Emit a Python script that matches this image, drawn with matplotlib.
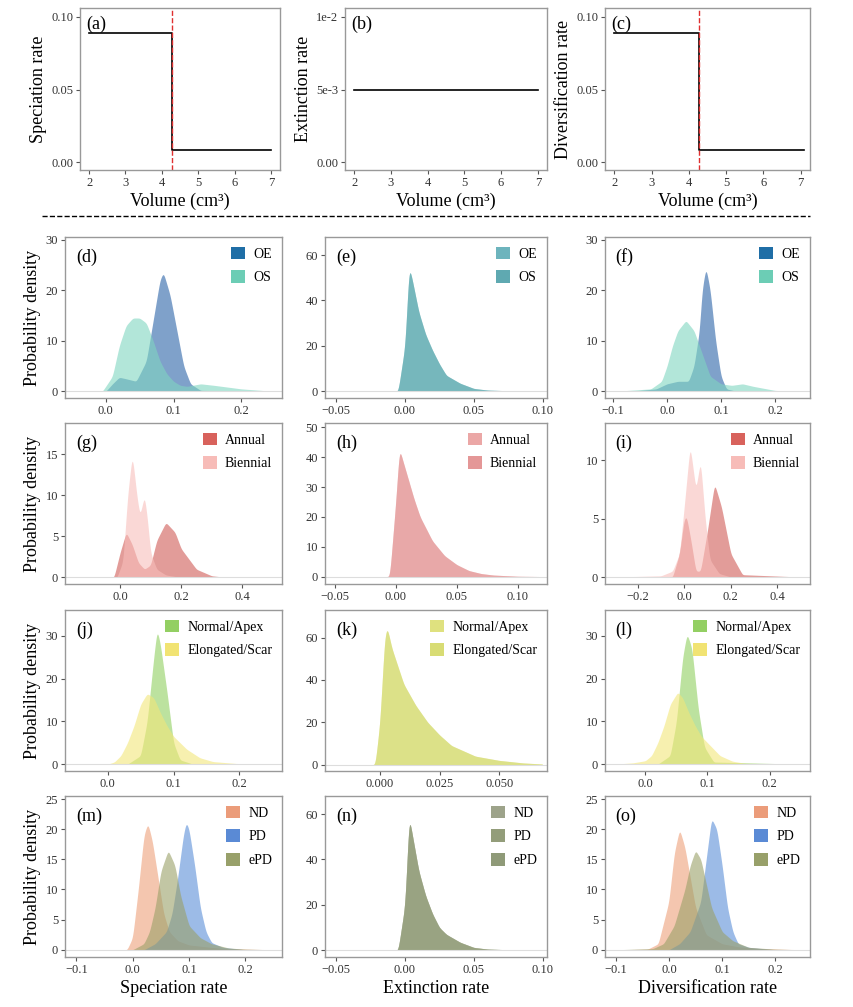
import numpy as np
import matplotlib
matplotlib.use('Agg')
import matplotlib.pyplot as plt
from matplotlib.patches import Patch
from matplotlib.lines import Line2D

plt.rcParams['font.family'] = ['Liberation Serif', 'DejaVu Serif']

# ---- top row: rate vs volume
vol_a = [2, 4.28, 4.28, 7]
spec_a = [0.089, 0.089, 0.0085, 0.0085]
vol_b = [2, 7]
ext_b = [0.005, 0.005]
vol_c = [2, 4.28, 4.28, 7.1]
div_c = [0.089, 0.089, 0.0085, 0.0085]
shift_vol = 4.28

# ---- density curves (x knots, y knots)
d_OE = ([-0.05, 0, 0.01, 0.02, 0.03, 0.045, 0.06, 0.07, 0.08, 0.085, 0.095, 0.105, 0.115, 0.125, 0.14, 0.25],
        [0, 0, 1.5, 2.8, 2.5, 2, 6, 14, 22, 23.5, 19, 12, 5, 1.5, 0.2, 0])
d_OS = ([-0.05, -0.005, 0.01, 0.02, 0.03, 0.04, 0.05, 0.06, 0.07, 0.08, 0.09, 0.1, 0.11, 0.12, 0.14, 0.16, 0.2, 0.25],
        [0, 0, 3, 9, 13, 14.5, 14.5, 13.5, 10, 6, 3.5, 2, 1.2, 1, 1.5, 1.2, 0.5, 0])
e_ext = ([-0.05, -0.005, 0, 0.003, 0.005, 0.01, 0.015, 0.02, 0.025, 0.03, 0.04, 0.05, 0.06, 0.08, 0.1],
         [0, 0, 20, 55, 50, 35, 25, 18, 12, 7, 3.5, 1.2, 0.5, 0.1, 0])
f_OE = ([-0.1, -0.05, -0.02, 0, 0.02, 0.04, 0.05, 0.06, 0.065, 0.072, 0.08, 0.09, 0.1, 0.11, 0.13, 0.25],
        [0, 0.2, 0.5, 1.5, 2, 2, 5, 12, 20, 24.5, 20, 10, 3, 0.5, 0, 0])
f_OS = ([-0.1, -0.03, -0.01, 0, 0.01, 0.02, 0.035, 0.05, 0.06, 0.07, 0.08, 0.1, 0.12, 0.14, 0.16, 0.2, 0.25],
        [0, 0.5, 2, 5, 9, 12, 14, 12, 9, 6, 3, 1.5, 1.2, 1.5, 1, 0.2, 0])
g_ann = ([-0.15, -0.02, 0, 0.02, 0.04, 0.06, 0.08, 0.1, 0.12, 0.15, 0.18, 0.2, 0.25, 0.3, 0.35, 0.5],
         [0, 0, 3, 5.5, 4, 1.8, 1, 1.5, 4.5, 6.7, 5.5, 3.5, 1, 0.2, 0, 0])
g_bie = ([-0.15, -0.01, 0.01, 0.025, 0.04, 0.055, 0.065, 0.08, 0.09, 0.1, 0.12, 0.15, 0.2, 0.5],
         [0, 0, 2, 10, 15, 10, 7.5, 10, 7, 3, 1, 0.3, 0, 0])
h_ext = ([-0.05, -0.005, 0, 0.003, 0.005, 0.01, 0.015, 0.02, 0.03, 0.04, 0.05, 0.06, 0.07, 0.08, 0.1, 0.12],
         [0, 0, 25, 43, 40, 33, 26, 20, 12, 7, 4, 2, 1, 0.5, 0.1, 0])
i_ann = ([-0.3, -0.05, -0.02, 0, 0.01, 0.03, 0.05, 0.07, 0.1, 0.13, 0.16, 0.2, 0.25, 0.5],
         [0, 0, 2, 5, 5.2, 3, 0.5, 0.5, 4, 8, 6, 2, 0.2, 0])
i_bie = ([-0.3, -0.1, -0.05, -0.02, 0, 0.025, 0.05, 0.07, 0.09, 0.11, 0.15, 0.2, 0.5],
         [0, 0.1, 0.5, 2, 6, 11.3, 7.5, 10, 5, 1.5, 0.3, 0, 0])
j_nor = ([-0.05, 0.03, 0.05, 0.06, 0.07, 0.075, 0.08, 0.09, 0.1, 0.11, 0.13, 0.25],
         [0, 0, 2, 10, 25, 31.5, 28, 17, 5, 1, 0, 0])
j_elo = ([-0.05, 0, 0.01, 0.02, 0.03, 0.04, 0.05, 0.06, 0.07, 0.08, 0.09, 0.1, 0.11, 0.12, 0.14, 0.16, 0.2, 0.25],
         [0, 0, 0.5, 2, 5, 9, 14, 16.5, 15.5, 12, 9, 6.5, 5, 3.5, 1.5, 0.6, 0.1, 0])
k_ext = ([-0.02, -0.002, 0, 0.002, 0.003, 0.005, 0.01, 0.015, 0.02, 0.025, 0.03, 0.04, 0.05, 0.06, 0.068],
         [0, 0, 20, 60, 65, 55, 38, 28, 20, 14, 9, 4, 2, 0.8, 0.3])
l_nor = ([-0.05, 0.02, 0.04, 0.05, 0.06, 0.067, 0.075, 0.085, 0.095, 0.11, 0.25],
         [0, 0, 2, 10, 25, 30.5, 27, 13, 4, 0.5, 0])
l_elo = ([-0.05, -0.02, 0, 0.01, 0.02, 0.03, 0.04, 0.052, 0.06, 0.07, 0.08, 0.09, 0.1, 0.11, 0.12, 0.14, 0.16, 0.25],
         [0, 0.3, 0.8, 2, 5, 9, 14, 16.8, 15.5, 12, 9, 6.5, 5, 3.5, 2, 0.7, 0.2, 0])
m_ND = ([-0.1, -0.01, 0, 0.01, 0.02, 0.027, 0.035, 0.045, 0.055, 0.065, 0.08, 0.1, 0.13, 0.16, 0.25],
        [0, 0, 2, 10, 19, 21, 18, 12, 6, 3, 1.5, 0.8, 0.5, 0.2, 0])
m_PD = ([-0.1, 0.02, 0.04, 0.06, 0.07, 0.08, 0.09, 0.095, 0.1, 0.11, 0.12, 0.13, 0.14, 0.16, 0.2, 0.25],
        [0, 0, 1, 3, 6, 12, 19, 21.2, 20, 14, 7, 3, 1.2, 0.4, 0, 0])
m_ePD = ([-0.1, 0, 0.02, 0.03, 0.04, 0.05, 0.063, 0.075, 0.085, 0.1, 0.12, 0.14, 0.17, 0.2, 0.25],
         [0, 0, 1, 3, 7, 13, 16.5, 14, 9, 4, 2, 1, 0.3, 0.1, 0])
n_ext = ([-0.05, -0.005, 0, 0.003, 0.005, 0.01, 0.015, 0.02, 0.025, 0.03, 0.04, 0.05, 0.06, 0.08, 0.1],
         [0, 0, 20, 59, 52, 35, 24, 16, 10, 7, 3.5, 1.2, 0.5, 0.1, 0])
o_ND = ([-0.1, -0.04, -0.02, 0, 0.01, 0.02, 0.03, 0.04, 0.05, 0.07, 0.1, 0.13, 0.17, 0.25],
        [0, 0.1, 1, 8, 16, 20, 17, 12, 7, 2.5, 1, 0.5, 0.2, 0])
o_PD = ([-0.1, 0, 0.02, 0.04, 0.06, 0.07, 0.08, 0.09, 0.1, 0.11, 0.12, 0.13, 0.15, 0.2, 0.25],
        [0, 0, 1, 3, 8, 15, 21.8, 20, 14, 7, 3, 1, 0.4, 0, 0])
o_ePD = ([-0.1, -0.03, -0.01, 0.01, 0.03, 0.04, 0.05, 0.06, 0.07, 0.08, 0.1, 0.12, 0.15, 0.2, 0.25],
         [0, 0.2, 1, 4, 10, 14, 16.5, 15, 11, 7, 3, 1.5, 0.4, 0.1, 0])

W, H = 854, 1007
fig = plt.figure(figsize=(W / 100, H / 100), dpi=100)

def add_ax(x0, y0, x1, y1):
    return fig.add_axes([x0 / W, 1 - y1 / H, (x1 - x0) / W, (y1 - y0) / H])

def style(ax):
    for s in ax.spines.values():
        s.set_color('#999999')
        s.set_linewidth(1.0)
    ax.tick_params(labelsize=9, length=3, color='#555555', labelcolor='#333333', pad=2)

def smooth(xs, ys):
    # soften the corners of the hand-read polyline a little
    xx = np.linspace(xs[0], xs[-1], 600)
    yy = np.interp(xx, xs, ys)
    k = np.exp(-0.5 * (np.arange(-9, 10) / 3.0) ** 2)
    k /= k.sum()
    yy = np.convolve(np.pad(yy, 9, mode='edge'), k, mode='valid')
    return xx, yy

cols = [(65, 282), (325, 547), (605, 810)]
top_cols = [(80, 280), (345, 547), (605, 810)]

top = [('(a)', vol_a, spec_a, 'Speciation rate', True, [0, 0.05, 0.10], ['0.00', '0.05', '0.10']),
       ('(b)', vol_b, ext_b, 'Extinction rate', False, [0, 0.005, 0.01], ['0.00', '5e-3', '1e-2']),
       ('(c)', vol_c, div_c, 'Diversification rate', True, [0, 0.05, 0.10], ['0.00', '0.05', '0.10'])]
for (x0, x1), (lab, xv, yv, ylab, vline, yt, ytl) in zip(top_cols, top):
    ax = add_ax(x0, 8, x1, 170)
    style(ax)
    ax.plot(xv, yv, color='black', lw=1.2)
    if vline:
        ax.axvline(shift_vol, color='#e03030', ls='--', lw=1)
    ax.set_xlim(1.75, 7.25)
    if yt[-1] == 0.01:
        ax.set_ylim(-0.00055, 0.01062)
    else:
        ax.set_ylim(-0.0055, 0.1062)
    ax.set_yticks(yt)
    ax.set_yticklabels(ytl)
    ax.set_xticks([2, 3, 4, 5, 6, 7])
    ax.set_xlabel('Volume (cm\u00b3)', fontsize=13, labelpad=3)
    ax.set_ylabel(ylab, fontsize=13, labelpad=3)
    ax.text(0.03, 0.95, lab, transform=ax.transAxes, fontsize=13, va='top')

fig.add_artist(Line2D([42 / W, 810 / W], [1 - 216 / H, 1 - 216 / H], color='black', ls='--', lw=1))

rows = [(237, 398), (423, 584), (610, 771), (796, 957)]
panels = [
    [('(d)', [d_OE, d_OS], ['#2a63a8', '#7fd6c0'], ['OE', 'OS'], ['#1f6ea6', '#6ccdb5'],
      (-0.06, 0.26), [0.0, 0.1, 0.2], ['0.0', '0.1', '0.2'], (-1.3, 30.5), [0, 10, 20, 30]),
     ('(e)', [e_ext, e_ext], ['#62b0b8', '#5aa8ad'], ['OE', 'OS'], ['#6db4bd', '#5fa9b1'],
      (-0.058, 0.103), [-0.05, 0, 0.05, 0.10], ['-0.05', '0.00', '0.05', '0.10'], (-3, 68), [0, 20, 40, 60]),
     ('(f)', [f_OE, f_OS], ['#2a63a8', '#7fd6c0'], ['OE', 'OS'], ['#1f6ea6', '#6ccdb5'],
      (-0.115, 0.265), [-0.1, 0, 0.1, 0.2], ['-0.1', '0.0', '0.1', '0.2'], (-1.3, 30.5), [0, 10, 20, 30])],
    [('(g)', [g_ann, g_bie], ['#d05a55', '#f8bfbb'], ['Annual', 'Biennial'], ['#d8625c', '#f7bcb8'],
      (-0.18, 0.53), [0, 0.2, 0.4], ['0.0', '0.2', '0.4'], (-0.8, 18.8), [0, 5, 10, 15]),
     ('(h)', [h_ext, h_ext], ['#eca5a5', '#e29393'], ['Annual', 'Biennial'], ['#eba7a6', '#e49797'],
      (-0.058, 0.124), [-0.05, 0, 0.05, 0.10], ['-0.05', '0.00', '0.05', '0.10'], (-2.5, 51.5), [0, 10, 20, 30, 40, 50]),
     ('(i)', [i_ann, i_bie], ['#d05a55', '#f8bfbb'], ['Annual', 'Biennial'], ['#d8625c', '#f7bcb8'],
      (-0.34, 0.54), [-0.2, 0, 0.2, 0.4], ['-0.2', '0.0', '0.2', '0.4'], (-0.6, 13.2), [0, 5, 10])],
    [('(j)', [j_nor, j_elo], ['#90d060', '#f3e77a'], ['Normal/Apex', 'Elongated/Scar'], ['#93cf63', '#f1e373'],
      (-0.065, 0.265), [0, 0.1, 0.2], ['0.0', '0.1', '0.2'], (-1.6, 36), [0, 10, 20, 30]),
     ('(k)', [k_ext, k_ext], ['#dde07a', '#d4da6e'], ['Normal/Apex', 'Elongated/Scar'], ['#dfe17f', '#d8dc74'],
      (-0.023, 0.07), [0, 0.025, 0.05], ['0.000', '0.025', '0.050'], (-3, 73), [0, 20, 40, 60]),
     ('(l)', [l_nor, l_elo], ['#90d060', '#f3e77a'], ['Normal/Apex', 'Elongated/Scar'], ['#93cf63', '#f1e373'],
      (-0.065, 0.265), [0, 0.1, 0.2], ['0.0', '0.1', '0.2'], (-1.6, 36), [0, 10, 20, 30])],
    [('(m)', [m_ND, m_PD, m_ePD], ['#eea07a', '#5a8fd8', '#9aa068'], ['ND', 'PD', 'ePD'], ['#eb9c7a', '#5a8ad5', '#98a06a'],
      (-0.12, 0.265), [-0.1, 0, 0.1, 0.2], ['-0.1', '0.0', '0.1', '0.2'], (-1.2, 25.5), [0, 5, 10, 15, 20, 25]),
     ('(n)', [n_ext, n_ext, n_ext], ['#a3aa8c', '#98a27e', '#8f9a76'], ['ND', 'PD', 'ePD'], ['#9da38a', '#939d7a', '#8f9a78'],
      (-0.058, 0.103), [-0.05, 0, 0.05, 0.10], ['-0.05', '0.00', '0.05', '0.10'], (-3, 68), [0, 20, 40, 60]),
     ('(o)', [o_ND, o_PD, o_ePD], ['#eea07a', '#5a8fd8', '#9aa068'], ['ND', 'PD', 'ePD'], ['#eb9c7a', '#5a8ad5', '#98a06a'],
      (-0.12, 0.265), [-0.1, 0, 0.1, 0.2], ['-0.1', '0.0', '0.1', '0.2'], (-1.2, 25.5), [0, 5, 10, 15, 20, 25])],
]
xlabels = ['Speciation rate', 'Extinction rate', 'Diversification rate']

for r, ((y0, y1), row) in enumerate(zip(rows, panels)):
    for c, ((x0, x1), p) in enumerate(zip(cols, row)):
        lab, curves, fcols, names, lcols, xl, xt, xtl, yl, yt = p
        ax = add_ax(x0, y0, x1, y1)
        style(ax)
        for (xs, ys), fc in zip(curves, fcols):
            sx, sy = smooth(xs, ys)
            ax.fill_between(sx, sy, color=fc, alpha=0.6, lw=0)
        ax.plot(xl, [0, 0], color='#dddddd', lw=0.8)
        ax.set_xlim(xl)
        ax.set_ylim(yl)
        ax.set_xticks(xt)
        ax.set_xticklabels([t.replace('-', '\u2212') for t in xtl])
        ax.set_yticks(yt)
        ax.text(0.05, 0.93, lab, transform=ax.transAxes, fontsize=13, va='top')
        handles = [Patch(facecolor=lc, edgecolor='none') for lc in lcols]
        ax.legend(handles, names, loc='upper right', frameon=False, fontsize=10,
                  handlelength=1.0, handleheight=1.0, handletextpad=0.6,
                  labelspacing=0.7, borderaxespad=0.3)
        if c == 0:
            ax.set_ylabel('Probability density', fontsize=13, labelpad=3)
        if r == 3:
            ax.set_xlabel(xlabels[c], fontsize=13, labelpad=3)

fig.savefig('out.png', dpi=100)
